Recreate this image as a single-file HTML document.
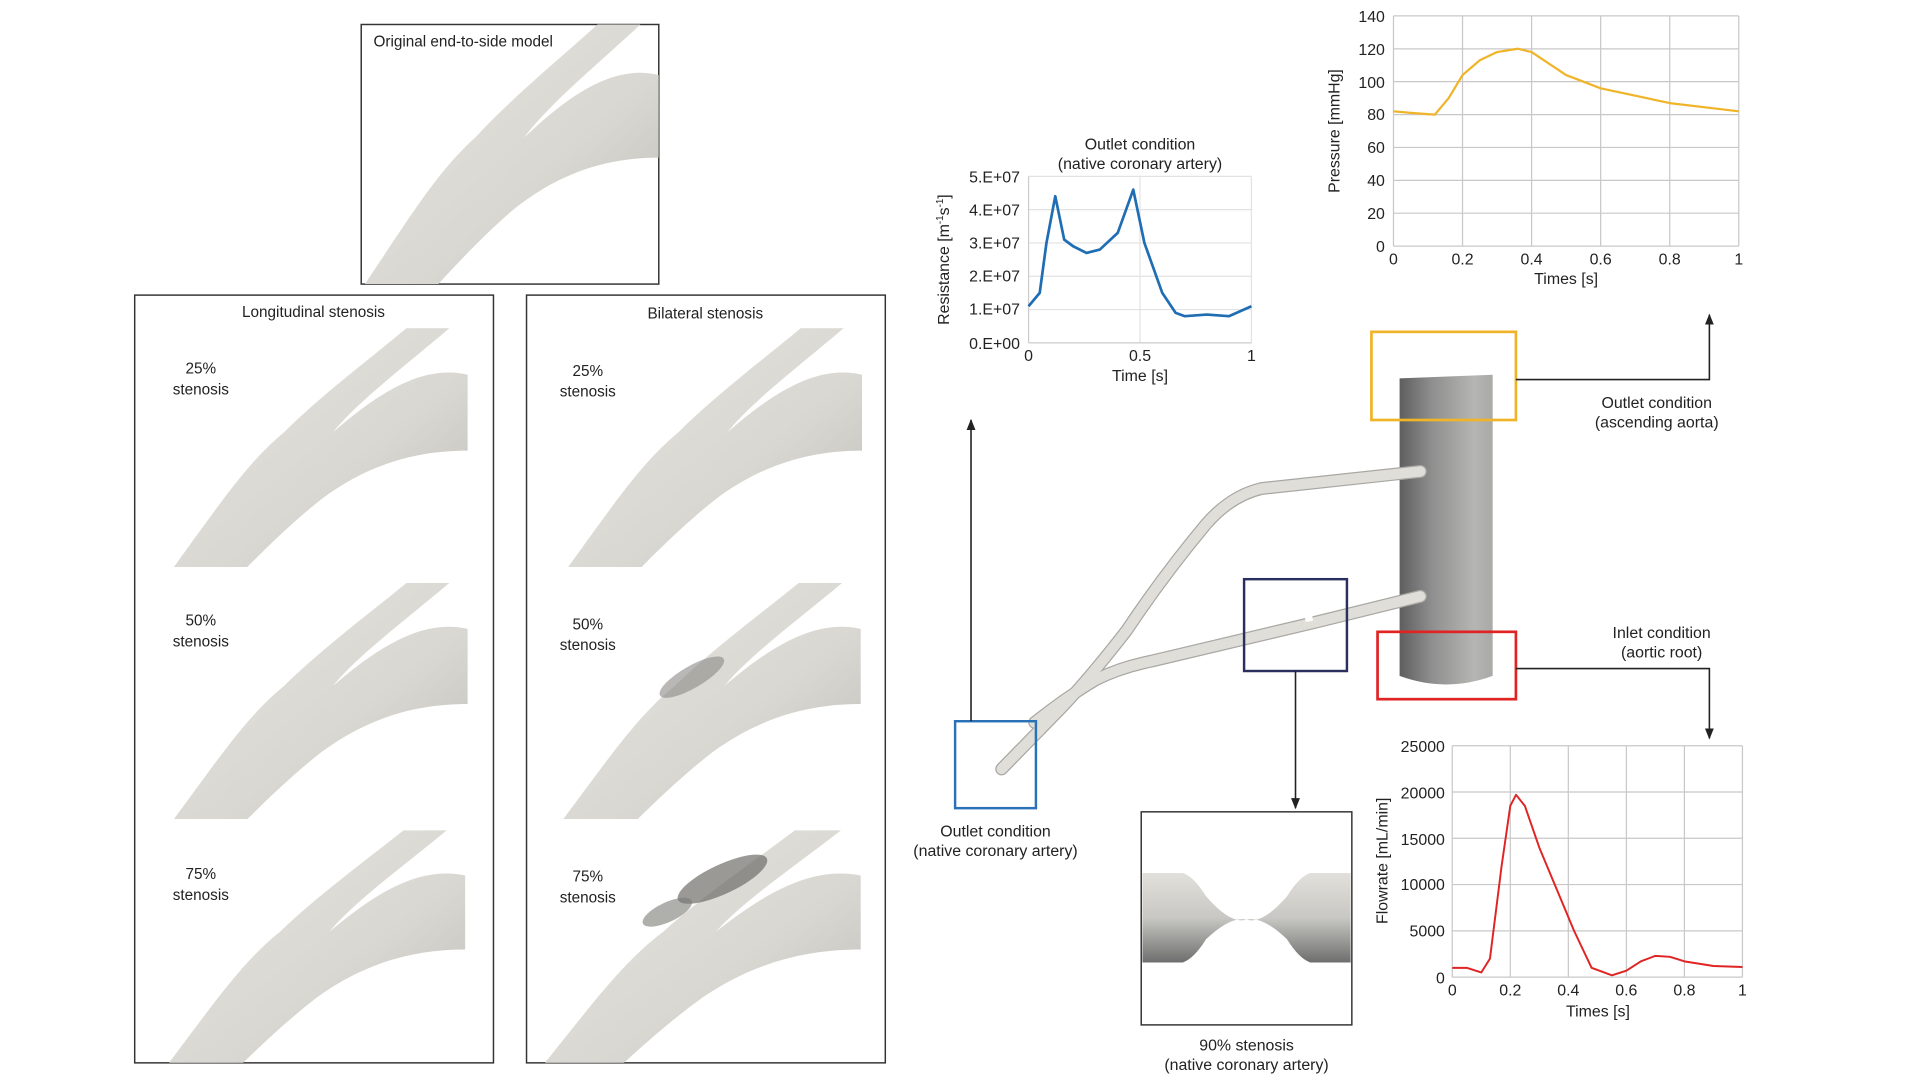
<!DOCTYPE html>
<html><head><meta charset="utf-8"><style>
html,body{margin:0;padding:0;background:#fff;}
svg{display:block;}
text{font-family:"Liberation Sans",Arial,sans-serif;fill:#222;}
</style></head><body>
<svg width="1920" height="1080" viewBox="0 0 1568 882" preserveAspectRatio="xMinYMin meet" xmlns="http://www.w3.org/2000/svg">
<defs>
<linearGradient id="vg" x1="0" y1="0" x2="1" y2="1">
<stop offset="0" stop-color="#e6e4df"/><stop offset="0.6" stop-color="#d9d7d1"/><stop offset="1" stop-color="#bdbbb5"/>
</linearGradient>
<linearGradient id="ao" x1="0" y1="0" x2="1" y2="0">
<stop offset="0" stop-color="#5e5e5e"/><stop offset="0.35" stop-color="#8f8f8f"/><stop offset="0.8" stop-color="#b5b5b3"/><stop offset="1" stop-color="#a9a9a7"/>
</linearGradient>
<linearGradient id="st" x1="0" y1="0" x2="0" y2="1">
<stop offset="0" stop-color="#e2e0db"/><stop offset="0.5" stop-color="#c8c7c3"/><stop offset="1" stop-color="#6e6e6e"/>
</linearGradient>
<symbol id="ves" viewBox="0 0 240 195" preserveAspectRatio="none">
<path d="M0,195 C40,140 60,110 90,85 C120,55 160,25 190,0 L225,0 C190,30 150,60 130,85 C170,50 205,30 240,38 L240,100 C200,100 160,110 120,140 C95,160 75,180 60,195 Z" fill="url(#vg)"/>
</symbol>
<marker id="ar" viewBox="0 0 10 10" refX="9" refY="5" markerWidth="7" markerHeight="7" orient="auto-start-reverse"><path d="M0,1 L10,5 L0,9 Z" fill="#222"/></marker>
</defs>

<rect x="295" y="20" width="243" height="212" fill="#fff" stroke="#333" stroke-width="1.2"/>
<use href="#ves" x="298" y="20" width="240" height="212"/>
<text x="305" y="38" font-size="12.5">Original end-to-side model</text>

<rect x="110" y="241" width="293" height="627" fill="none" stroke="#333" stroke-width="1.2"/>
<text x="256" y="259" font-size="12.5" text-anchor="middle">Longitudinal stenosis</text>
<use href="#ves" x="142" y="268" width="240" height="195"/>
<use href="#ves" x="142" y="476" width="240" height="193"/>
<use href="#ves" x="138" y="678" width="242" height="190"/>
<text x="164" y="305" font-size="12.5" text-anchor="middle">25%</text><text x="164" y="322" font-size="12.5" text-anchor="middle">stenosis</text>
<text x="164" y="511" font-size="12.5" text-anchor="middle">50%</text><text x="164" y="528" font-size="12.5" text-anchor="middle">stenosis</text>
<text x="164" y="718" font-size="12.5" text-anchor="middle">75%</text><text x="164" y="735" font-size="12.5" text-anchor="middle">stenosis</text>

<rect x="430" y="241" width="293" height="627" fill="none" stroke="#333" stroke-width="1.2"/>
<text x="576" y="260" font-size="12.5" text-anchor="middle">Bilateral stenosis</text>
<use href="#ves" x="464" y="268" width="240" height="195"/>
<use href="#ves" x="460" y="476" width="243" height="193"/>
<use href="#ves" x="445" y="678" width="258" height="190"/>
<ellipse cx="565" cy="553" rx="30" ry="9" transform="rotate(-30 565 553)" fill="#8a8985" opacity="0.6"/>
<ellipse cx="590" cy="718" rx="40" ry="12" transform="rotate(-25 590 718)" fill="#6f6e6a" opacity="0.7"/>
<ellipse cx="545" cy="745" rx="22" ry="8" transform="rotate(-25 545 745)" fill="#7a7975" opacity="0.6"/>
<text x="480" y="307" font-size="12.5" text-anchor="middle">25%</text><text x="480" y="324" font-size="12.5" text-anchor="middle">stenosis</text>
<text x="480" y="514" font-size="12.5" text-anchor="middle">50%</text><text x="480" y="531" font-size="12.5" text-anchor="middle">stenosis</text>
<text x="480" y="720" font-size="12.5" text-anchor="middle">75%</text><text x="480" y="737" font-size="12.5" text-anchor="middle">stenosis</text>

<g stroke="#e2e2e2" stroke-width="1">
<line x1="840" y1="144" x2="1022" y2="144"/><line x1="840" y1="171.2" x2="1022" y2="171.2"/><line x1="840" y1="198.4" x2="1022" y2="198.4"/><line x1="840" y1="225.6" x2="1022" y2="225.6"/><line x1="840" y1="252.8" x2="1022" y2="252.8"/>
<line x1="931" y1="144" x2="931" y2="280"/><line x1="1022" y1="144" x2="1022" y2="280"/>
</g>
<line x1="840" y1="144" x2="840" y2="280" stroke="#ccc"/><line x1="840" y1="280" x2="1022" y2="280" stroke="#ccc"/>
<polyline fill="none" stroke="#1f6db3" stroke-width="2.2" stroke-linejoin="round" points="840,250.1 849.1,239.2 854.6,198.4 861.8,160.3 869.1,195.7 876.4,201.1 887.3,206.6 898.2,203.8 912.8,190.2 925.5,154.9 934.6,198.4 949.2,239.2 960.1,255.5 967.4,258.2 985.6,256.9 1003.8,258.2 1022,250.1"/>
<g font-size="13" text-anchor="end">
<text x="833" y="149">5.E+07</text><text x="833" y="176">4.E+07</text><text x="833" y="203">3.E+07</text><text x="833" y="230">2.E+07</text><text x="833" y="257">1.E+07</text><text x="833" y="285">0.E+00</text>
</g>
<g font-size="13" text-anchor="middle">
<text x="840" y="295">0</text><text x="931" y="295">0.5</text><text x="1022" y="295">1</text>
<text x="931" y="311">Time [s]</text>
<text x="931" y="122">Outlet condition</text><text x="931" y="138">(native coronary artery)</text>
<text transform="translate(775 212) rotate(-90)">Resistance  [m<tspan font-size="8" dy="-5">-1</tspan><tspan dy="5">s</tspan><tspan font-size="8" dy="-5">-1</tspan><tspan dy="5">]</tspan></text>
</g>

<g stroke="#c8c8c8" stroke-width="1">
<line x1="1138" y1="13" x2="1420" y2="13"/><line x1="1138" y1="39.9" x2="1420" y2="39.9"/><line x1="1138" y1="66.7" x2="1420" y2="66.7"/><line x1="1138" y1="93.6" x2="1420" y2="93.6"/><line x1="1138" y1="120.4" x2="1420" y2="120.4"/><line x1="1138" y1="147.3" x2="1420" y2="147.3"/><line x1="1138" y1="174.1" x2="1420" y2="174.1"/><line x1="1138" y1="201" x2="1420" y2="201"/>
<line x1="1138" y1="13" x2="1138" y2="201"/><line x1="1194.4" y1="13" x2="1194.4" y2="201"/><line x1="1250.8" y1="13" x2="1250.8" y2="201"/><line x1="1307.2" y1="13" x2="1307.2" y2="201"/><line x1="1363.6" y1="13" x2="1363.6" y2="201"/><line x1="1420" y1="13" x2="1420" y2="201"/>
</g>
<polyline fill="none" stroke="#f0b429" stroke-width="1.8" stroke-linejoin="round" points="1138,90.9 1152.1,92.2 1171.8,93.6 1183.1,80.1 1194.4,61.3 1208.5,49.2 1222.6,42.5 1239.5,39.8 1250.8,42.5 1264.9,51.9 1279,61.3 1307.2,72.1 1363.6,84.2 1420,90.9"/>
<g font-size="13" text-anchor="end">
<text x="1131" y="18">140</text><text x="1131" y="45">120</text><text x="1131" y="72">100</text><text x="1131" y="98">80</text><text x="1131" y="125">60</text><text x="1131" y="152">40</text><text x="1131" y="179">20</text><text x="1131" y="206">0</text>
</g>
<g font-size="13" text-anchor="middle">
<text x="1138" y="216">0</text><text x="1194.4" y="216">0.2</text><text x="1250.8" y="216">0.4</text><text x="1307.2" y="216">0.6</text><text x="1363.6" y="216">0.8</text><text x="1420" y="216">1</text>
<text x="1279" y="232">Times [s]</text>
<text transform="translate(1094 107) rotate(-90)">Pressure [mmHg]</text>
</g>

<g stroke="#c8c8c8" stroke-width="1">
<line x1="1186" y1="609" x2="1423" y2="609"/><line x1="1186" y1="646.8" x2="1423" y2="646.8"/><line x1="1186" y1="684.6" x2="1423" y2="684.6"/><line x1="1186" y1="722.4" x2="1423" y2="722.4"/><line x1="1186" y1="760.2" x2="1423" y2="760.2"/><line x1="1186" y1="798" x2="1423" y2="798"/>
<line x1="1186" y1="609" x2="1186" y2="798"/><line x1="1233.4" y1="609" x2="1233.4" y2="798"/><line x1="1280.8" y1="609" x2="1280.8" y2="798"/><line x1="1328.2" y1="609" x2="1328.2" y2="798"/><line x1="1375.6" y1="609" x2="1375.6" y2="798"/><line x1="1423" y1="609" x2="1423" y2="798"/>
</g>
<polyline fill="none" stroke="#e02424" stroke-width="1.6" stroke-linejoin="round" points="1186,790.4 1197.9,790.4 1209.7,794.2 1216.8,782.9 1226.3,707.3 1233.4,658.1 1238.1,649.1 1245.3,658.1 1257.1,692.2 1271.3,726.2 1285.5,760.2 1299.8,790.4 1316.4,796.5 1328.2,792.7 1340.1,785.1 1351.9,780.6 1363.8,781.4 1375.6,785.1 1399.3,788.9 1423,789.7"/>
<g font-size="13" text-anchor="end">
<text x="1180" y="614">25000</text><text x="1180" y="652">20000</text><text x="1180" y="690">15000</text><text x="1180" y="727">10000</text><text x="1180" y="765">5000</text><text x="1180" y="803">0</text>
</g>
<g font-size="13" text-anchor="middle">
<text x="1186" y="813">0</text><text x="1233.4" y="813">0.2</text><text x="1280.8" y="813">0.4</text><text x="1328.2" y="813">0.6</text><text x="1375.6" y="813">0.8</text><text x="1423" y="813">1</text>
<text x="1305" y="830">Times [s]</text>
<text transform="translate(1133 703) rotate(-90)">Flowrate [mL/min]</text>
</g>

<path d="M1143,309 L1219,306 L1219,552 Q1181,566 1143,552 Z" fill="url(#ao)"/>

<g fill="none" stroke-linecap="round" stroke-linejoin="round">
<path d="M1160,385 L1030,399 Q1005,405 985,428 Q950,470 920,515 Q885,560 860,585 L818,628" stroke="#a8a7a3" stroke-width="10.5"/>
<path d="M1160,487 L1075,508 L940,540 Q915,545 895,555 Q870,570 845,590" stroke="#a8a7a3" stroke-width="10.5"/>
<path d="M1160,385 L1030,399 Q1005,405 985,428 Q950,470 920,515 Q885,560 860,585 L818,628" stroke="#e0ded8" stroke-width="8.5"/>
<path d="M1160,487 L1075,508 L940,540 Q915,545 895,555 Q870,570 845,590" stroke="#e0ded8" stroke-width="8.5"/>
</g>
<line x1="1066" y1="506" x2="1072" y2="505" stroke="#fff" stroke-width="4"/>

<rect x="1120" y="271" width="118" height="72" fill="none" stroke="#f0b429" stroke-width="2.2"/>
<rect x="1125" y="516" width="113" height="55" fill="none" stroke="#e02424" stroke-width="2.2"/>
<rect x="1016" y="473" width="84" height="75" fill="none" stroke="#2b2f5e" stroke-width="2"/>
<rect x="780" y="589" width="66" height="71" fill="none" stroke="#2a72b8" stroke-width="2"/>
<g stroke="#222" stroke-width="1.3" fill="none">
<polyline points="1238,310 1396,310 1396,257" marker-end="url(#ar)"/>
<polyline points="1238,546 1396,546 1396,603" marker-end="url(#ar)"/>
<polyline points="1058,548 1058,660" marker-end="url(#ar)"/>
<polyline points="793,589 793,343" marker-end="url(#ar)"/>
</g>
<g font-size="13" text-anchor="middle">
<text x="1353" y="333">Outlet condition</text><text x="1353" y="349">(ascending aorta)</text>
<text x="1357" y="521">Inlet condition</text><text x="1357" y="537">(aortic root)</text>
<text x="813" y="683">Outlet condition</text><text x="813" y="699">(native coronary artery)</text>
<text x="1018" y="858">90% stenosis</text><text x="1018" y="874">(native coronary artery)</text>
</g>

<rect x="932" y="663" width="172" height="174" fill="#fff" stroke="#333" stroke-width="1.2"/>
<path d="M933,713 L966,713 Q975,716 985,732 Q1005,755 1018,751 Q1031,755 1051,732 Q1061,716 1070,713 L1103,713 L1103,786 L1070,786 Q1061,783 1051,767 Q1031,748 1018,751 Q1005,748 985,767 Q975,783 966,786 L933,786 Z" fill="url(#st)"/>
</svg>
</body></html>
